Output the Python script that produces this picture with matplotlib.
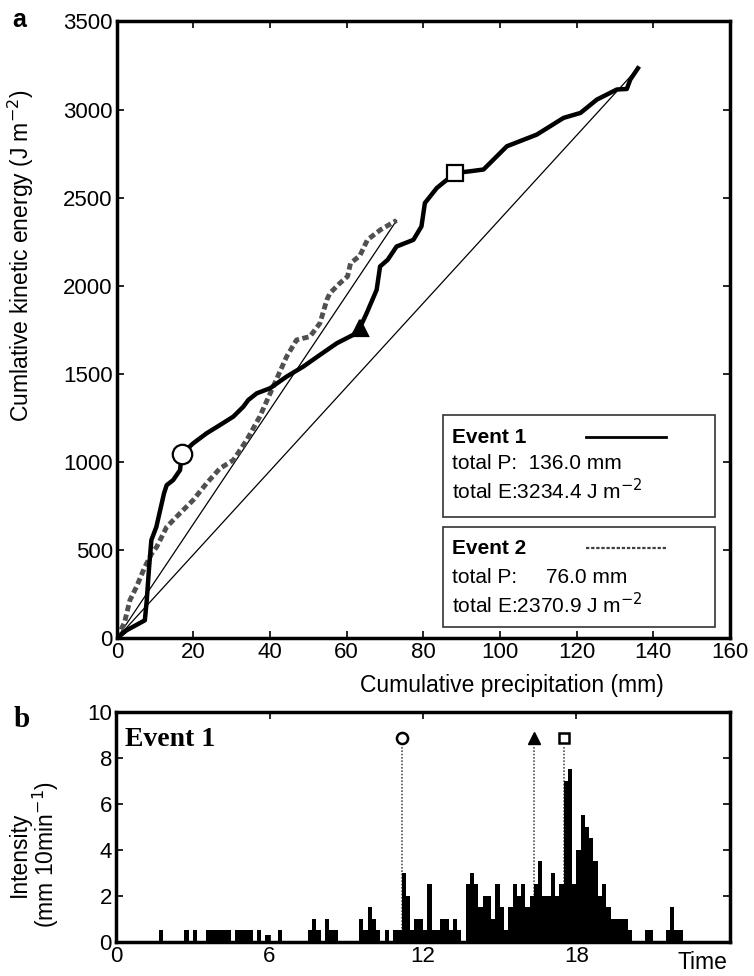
import matplotlib.pyplot as plt
from matplotlib.patches import Rectangle
import numpy as np

plt.rcParams['font.family'] = ['Liberation Sans', 'DejaVu Sans']

# panel a: cumulative precipitation (mm) vs cumulative kinetic energy (J m-2)
p_event1 = [0, 2.5, 7.3, 7.8, 8.4, 9.0, 10.3, 12.3, 13.0, 14.7, 16.5, 16.9, 19.9, 23.4,
            26.9, 30.4, 33.0, 34.3, 36.5, 40.0, 44.3, 48.6, 53.0, 57.4, 61.7, 63.4,
            65.2, 67.8, 68.7, 70.7, 73.0, 77.4, 79.5, 80.4, 83.5, 88.3, 92.2, 95.7,
            101.8, 109.6, 116.6, 121.0, 125.3, 130.5, 133.1, 134.0, 136.0]
e_event1 = [0, 45, 102, 216, 400, 557, 632, 822, 869, 898, 955, 1045, 1106, 1163,
            1210, 1258, 1314, 1352, 1390, 1419, 1485, 1541, 1608, 1674, 1722, 1761,
            1845, 1977, 2110, 2148, 2223, 2261, 2337, 2470, 2555, 2640, 2650, 2660,
            2792, 2858, 2953, 2981, 3057, 3114, 3117, 3170, 3234.4]

p_event2 = [0, 2.0, 3.4, 5.1, 7.3, 9.1, 10.4, 13.0, 16.4, 19.9, 23.4, 26.9, 30.4, 33.9,
            37.3, 40.8, 44.3, 46.9, 50.4, 53.0, 54.8, 55.6, 58.2, 60.2, 61.0, 63.4,
            65.4, 68.8, 73.0]
e_event2 = [0, 90, 216, 291, 405, 481, 519, 632, 708, 784, 879, 964, 1011, 1125,
            1258, 1428, 1598, 1693, 1712, 1788, 1920, 1958, 2015, 2053, 2129, 2170,
            2261, 2318, 2370.9]

# marked moments on event 1
mark_p = [16.9, 63.4, 88.3]
mark_e = [1045, 1761, 2640]
mark_style = ['o', '^', 's']
mark_fill = ['white', 'black', 'white']

# panel b: 10-minute intensity for event 1 (144 bins over 24 h)
intensity = [0.0] * 144
nonzero = {10: 0.5, 16: 0.5, 18: 0.5, 21: 0.5, 22: 0.5, 23: 0.5, 24: 0.5, 25: 0.5,
           26: 0.5, 28: 0.5, 29: 0.5, 30: 0.5, 31: 0.5, 33: 0.5, 35: 0.3, 38: 0.5,
           45: 0.5, 46: 1.0, 47: 0.5, 49: 1.0, 50: 0.5, 51: 0.5, 57: 1.0, 58: 0.5,
           59: 1.5, 60: 1.0, 61: 0.5, 63: 0.5, 65: 0.5, 66: 0.5,
           124: 0.5, 125: 0.5, 129: 0.5, 130: 1.5, 131: 0.5, 132: 0.5}
run_67 = [3.0, 2.0, 0.5, 1.0, 1.0, 0.5, 2.5, 0.5, 0.5, 1.0, 1.0, 0.5, 1.0, 0.5]
run_82 = [2.5, 3.0, 2.5, 1.5, 2.0, 2.0, 1.0, 2.5, 1.5, 0.5,
          1.5, 2.5, 2.0, 2.5, 1.5, 2.0, 2.5, 3.5, 2.0, 2.0,
          3.0, 2.0, 2.5, 7.0, 7.5, 2.5, 4.0, 5.5, 5.0, 4.5,
          3.5, 2.0, 2.5, 1.5, 1.0, 1.0, 1.0, 1.0, 0.5]
for k, v in nonzero.items():
    intensity[k] = v
for i, v in enumerate(run_67):
    intensity[67 + i] = v
for i, v in enumerate(run_82):
    intensity[82 + i] = v
bin_start = np.arange(144) / 6.0

mark_time = [11.17, 16.33, 17.5]
mark_level = 8.85

fig = plt.figure(figsize=(7.54, 9.76), dpi=100)

# ---- panel a ----
ax = fig.add_axes([0.155, 0.346, 0.813, 0.632])
ax.plot([0, p_event1[-1]], [0, e_event1[-1]], color='black', lw=0.9)
ax.plot([0, p_event2[-1]], [0, e_event2[-1]], color='black', lw=0.9)
ax.plot(p_event2, e_event2, color='#505050', lw=3.5, dashes=(1.3, 0.7))
ax.plot(p_event1, e_event1, color='black', lw=3.2, solid_joinstyle='round')
sizes = [14, 11, 11]
for x, y, m, fc, s in zip(mark_p, mark_e, mark_style, mark_fill, sizes):
    ax.plot(x, y, marker=m, ms=s, mfc=fc, mec='black', mew=1.6, zorder=5)

ax.set_xlim(0, 160)
ax.set_ylim(0, 3500)
ax.set_xticks(range(0, 161, 20))
ax.set_yticks(range(0, 3501, 500))
ax.tick_params(direction='in', top=True, right=True, length=5, width=1.2,
               labelsize=16, pad=3)
for sp in ax.spines.values():
    sp.set_linewidth(2.5)
ax.set_xlabel('Cumulative precipitation (mm)', fontsize=16.5)
ax.xaxis.set_label_coords(0.645, -0.058)
ax.set_ylabel('Cumlative kinetic energy (J m$^{-2}$)', fontsize=16.5)
ax.yaxis.set_label_coords(-0.132, 0.62)
fig.text(0.016, 0.972, 'a', fontsize=18, fontweight='bold')

# legend boxes drawn by hand
boxes = [(0.196, 0.362), (0.018, 0.180)]
for y0, y1 in boxes:
    ax.add_patch(Rectangle((0.532, y0), 0.444, y1 - y0, transform=ax.transAxes,
                           fill=False, lw=1.2, ec='#333333'))
tx = 0.547
fs = 15
ax.text(tx, 0.325, 'Event 1', transform=ax.transAxes, fontsize=fs,
        fontweight='bold', va='center')
ax.plot([0.765, 0.895], [0.327, 0.327], transform=ax.transAxes, color='black', lw=2)
ax.text(tx, 0.283, 'total P:  136.0 mm', transform=ax.transAxes, fontsize=fs, va='center')
ax.text(tx, 0.240, 'total E:3234.4 J m$^{-2}$', transform=ax.transAxes, fontsize=fs, va='center')
ax.text(tx, 0.145, 'Event 2', transform=ax.transAxes, fontsize=fs,
        fontweight='bold', va='center')
ax.plot([0.765, 0.895], [0.147, 0.147], transform=ax.transAxes, color='#404040',
        lw=1.6, dashes=(1.5, 0.8))
ax.text(tx, 0.098, 'total P:     76.0 mm', transform=ax.transAxes, fontsize=fs, va='center')
ax.text(tx, 0.055, 'total E:2370.9 J m$^{-2}$', transform=ax.transAxes, fontsize=fs, va='center')

# ---- panel b ----
bx = fig.add_axes([0.154, 0.035, 0.814, 0.236])
for t in mark_time:
    bx.plot([t, t], [0, 8.5], color='#555555', lw=1.2, ls=(0, (1, 1)), zorder=1)
bx.bar(bin_start, intensity, width=1 / 6.0, align='edge', color='black', zorder=2)
bx.plot(mark_time[0], mark_level, 'o', ms=8, mfc='white', mec='black', mew=1.8)
bx.plot(mark_time[1], mark_level, '^', ms=8, mfc='black', mec='black')
bx.plot(mark_time[2], mark_level, 's', ms=7, mfc='white', mec='black', mew=1.8)
bx.set_xlim(0, 24)
bx.set_ylim(0, 10)
bx.set_xticks([0, 6, 12, 18])
bx.set_yticks(range(0, 11, 2))
bx.tick_params(direction='in', top=True, right=True, length=5, width=1.2,
               labelsize=16, pad=3)
for sp in bx.spines.values():
    sp.set_linewidth(2.5)
bx.set_ylabel('Intensity\n(mm 10min$^{-1}$)', fontsize=16.5, linespacing=1.0)
bx.yaxis.set_label_coords(-0.09, 0.38)
bx.text(0.955, -0.088, 'Time', transform=bx.transAxes, fontsize=16.5, ha='center', va='center')
bx.text(0.015, 0.88, 'Event 1', transform=bx.transAxes, fontsize=20,
        fontweight='bold', family='Liberation Serif', va='center')
fig.text(0.018, 0.255, 'b', fontsize=21, fontweight='bold', family='Liberation Serif')

fig.savefig('out.png', dpi=100)
